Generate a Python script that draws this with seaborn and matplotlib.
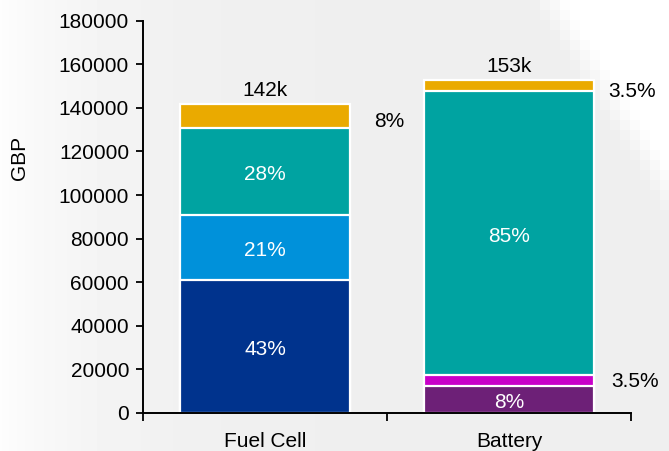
import numpy as np
import pandas as pd
import matplotlib
matplotlib.use("Agg")
import matplotlib.pyplot as plt
import seaborn as sns

# ---- data -------------------------------------------------------------
categories = ["Fuel Cell", "Battery"]
totals = [142000, 153000]
total_labels = ["142k", "153k"]
# segment shares (bottom to top) in percent
fuel_cell_pct = [43, 21, 28, 8]
battery_pct = [8, 3.5, 85, 3.5]
fuel_cell_colors = ["#00338D", "#0091DA", "#00A3A1", "#EAAA00"]
battery_colors = ["#6D2077", "#C800C8", "#00A3A1", "#EAAA00"]
fuel_cell_text = ["43%", "21%", "28%", "8%"]
battery_text = ["8%", "3.5%", "85%", "3.5%"]
y_ticks = [0, 20000, 40000, 60000, 80000, 100000, 120000, 140000, 160000, 180000]

# ---- style ------------------------------------------------------------
sns.set_style("ticks")
plt.rcParams["font.family"] = ["Liberation Sans", "DejaVu Sans"]
plt.rcParams.update({"text.color": "black", "axes.labelcolor": "black",
                     "xtick.color": "black", "ytick.color": "black"})
FS = 15

fig = plt.figure(figsize=(6.69, 4.51), dpi=100)

# slide background: soft grey with a light left edge and a blocky white corner
H, W = 451, 669
yy, xx = np.mgrid[0:H, 0:W]
shade = 0.935 + 0.058 * np.exp(-xx / 100.0)
blk = 10
by = (yy // blk) * blk + blk / 2
bx = (xx // blk) * blk + blk / 2
d = bx - (530 + 0.63 * by)
t = np.clip(d / 35.0, 0, 1)
shade = shade * (1 - t) + 1.0 * t
bg = fig.add_axes([0, 0, 1, 1], zorder=-1)
bg.imshow(shade, cmap="gray", vmin=0, vmax=1, aspect="auto", interpolation="nearest")
bg.axis("off")

ax = fig.add_axes([143 / 669, 1 - 413 / 451, 488 / 669, 392.3 / 451])
ax.patch.set_alpha(0)

# segment values and cumulative heights
fc_vals = [totals[0] * p / 100 for p in fuel_cell_pct]
bt_vals = [totals[1] * p / 100 for p in battery_pct]
fc_cum = np.cumsum(fc_vals)
bt_cum = np.cumsum(bt_vals)

# stacked bars: draw cumulative heights from the top layer down
for k in range(3, -1, -1):
    df = pd.DataFrame({"cat": categories, "val": [fc_cum[k], bt_cum[k]]})
    sns.barplot(data=df, x="cat", y="val", hue="cat",
                palette=[fuel_cell_colors[k], battery_colors[k]],
                legend=False, width=0.7, edgecolor="white", linewidth=1.6,
                saturation=1, ax=ax)

# labels inside segments
fc_bottom = np.concatenate([[0], fc_cum[:-1]])
bt_bottom = np.concatenate([[0], bt_cum[:-1]])
for k in range(3):
    mid = (fc_bottom[k] + fc_cum[k]) / 2
    ax.text(0, mid - 1500, fuel_cell_text[k], color="white", ha="center",
            va="center", fontsize=FS)
for k in [0, 2]:
    mid = (bt_bottom[k] + bt_cum[k]) / 2
    ax.text(1, mid - 1500, battery_text[k], color="white", ha="center",
            va="center", fontsize=FS)

# labels beside thin segments
ax.text(0.51, (fc_bottom[3] + fc_cum[3]) / 2 - 2500, fuel_cell_text[3],
        ha="center", va="center", fontsize=FS, color="black")
ax.text(1.505, (bt_bottom[3] + bt_cum[3]) / 2 - 2600, battery_text[3],
        ha="center", va="center", fontsize=FS, color="black", clip_on=False)
ax.text(1.515, (bt_bottom[1] + bt_cum[1]) / 2 - 600, battery_text[1],
        ha="center", va="center", fontsize=FS, color="black", clip_on=False)

# totals above bars
for i, (tot, lab) in enumerate(zip(totals, total_labels)):
    ax.text(i, tot + 1500, lab, ha="center", va="bottom", fontsize=FS, color="black")

# axes
ax.set_xlim(-0.5, 1.5)
ax.set_ylim(0, 180000)
ax.set_yticks(y_ticks)
ax.set_yticklabels([str(v) for v in y_ticks], fontsize=FS)
ax.set_xticks([0, 1])
ax.set_xticklabels(categories, fontsize=FS)
ax.set_xticks([-0.5, 0.5, 1.5], minor=True)
ax.tick_params(axis="x", which="major", length=0, pad=14)
ax.tick_params(axis="x", which="minor", length=6, width=1.3, direction="out", color="black")
ax.tick_params(axis="y", length=5, width=1.3, direction="out", color="black", pad=5)
ax.set_xlabel("")
ax.set_ylabel("GBP", fontsize=FS, va="center")
ax.yaxis.set_label_coords(-0.254, 0.65)
for s in ["top", "right"]:
    ax.spines[s].set_visible(False)
for s in ["left", "bottom"]:
    ax.spines[s].set_color("black")
    ax.spines[s].set_linewidth(1.4)
    ax.spines[s].set_zorder(5)

fig.savefig("out.png", dpi=100)
